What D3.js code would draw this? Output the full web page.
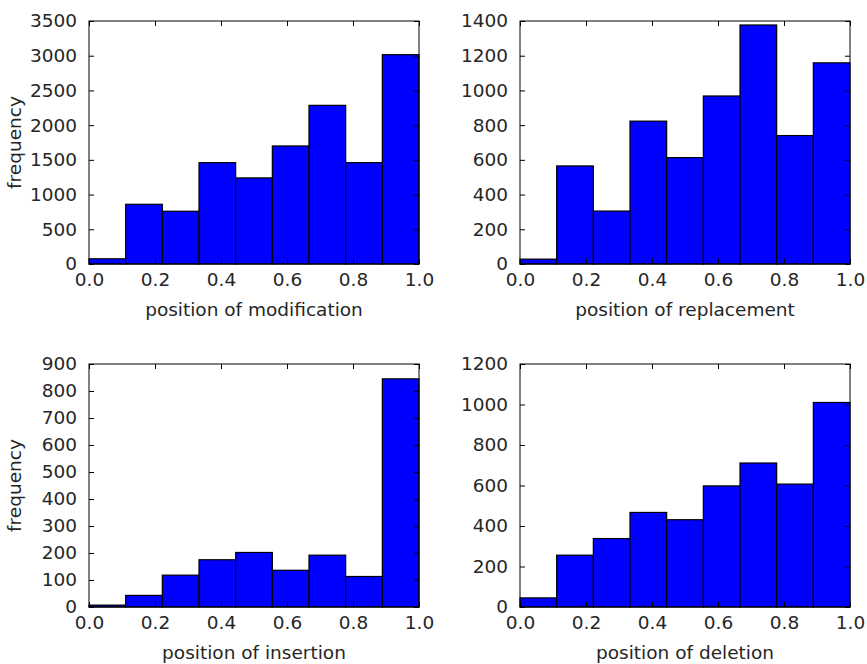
<!DOCTYPE html>
<html>
<head>
<meta charset="utf-8">
<script src="https://cdn.jsdelivr.net/npm/d3@7"></script>
<style>
  body { margin: 0; background: #fff; }
  text { font-family: "DejaVu Sans", sans-serif; fill: #262626; }
</style>
</head>
<body>
<script>
var width = 867,
    height = 664;

// histogram bins: 9 equal bins on [0, 1]
var binCount = 9;

var modification = [75, 860, 760, 1460, 1240, 1700, 2285, 1460, 3015];
var replacement = [28, 565, 305, 823, 613, 968, 1377, 740, 1159];
var insertion = [7, 43, 118, 175, 202, 136, 192, 113, 845];
var deletion = [45, 256, 338, 467, 431, 598, 711, 607, 1010];

var xTicks = [0, 0.2, 0.4, 0.6, 0.8, 1.0];

var panels = [
  { values: modification, label: 'position of modification', ymax: 3500, ystep: 500, ylabel: true, left: 89, top: 21 },
  { values: replacement, label: 'position of replacement', ymax: 1400, ystep: 200, ylabel: false, left: 520, top: 21 },
  { values: insertion, label: 'position of insertion', ymax: 900, ystep: 100, ylabel: true, left: 89, top: 364 },
  { values: deletion, label: 'position of deletion', ymax: 1200, ystep: 200, ylabel: false, left: 520, top: 364 }
];

var pw = 330, ph = 243, tickLen = 5, fs = 18.5;

var svg = d3.select('body')
  .append('svg')
  .attr('width', width)
  .attr('height', height);

panels.forEach(function(p) {
  var g = svg.append('g')
    .attr('transform', 'translate(' + p.left + ',' + p.top + ')');

  var x = d3.scaleLinear().domain([0, 1]).range([0, pw]);
  var y = d3.scaleLinear().domain([0, p.ymax]).range([ph, 0]);
  var yTicks = d3.range(0, p.ymax + 1, p.ystep);

  var bins = p.values.map(function(v, i) {
    return { x0: i / binCount, x1: (i + 1) / binCount, v: v };
  });

  g.selectAll('rect.bar')
    .data(bins)
    .enter().append('rect')
    .attr('class', 'bar')
    .attr('x', function(d) { return x(d.x0); })
    .attr('y', function(d) { return y(d.v); })
    .attr('width', function(d) { return x(d.x1) - x(d.x0); })
    .attr('height', function(d) { return ph - y(d.v); })
    .attr('fill', '#0000ff')
    .attr('stroke', '#000')
    .attr('stroke-width', 1.2);

  // frame
  g.append('rect')
    .attr('width', pw)
    .attr('height', ph)
    .attr('fill', 'none')
    .attr('stroke', '#000')
    .attr('stroke-width', 1);

  // inward ticks, all four sides (classic style)
  var bottom = d3.axisBottom(x).tickValues(xTicks).tickSizeInner(-tickLen).tickSizeOuter(0)
    .tickPadding(tickLen + 4).tickFormat(d3.format('.1f'));
  var top = d3.axisTop(x).tickValues(xTicks).tickSizeInner(-tickLen).tickSizeOuter(0).tickFormat('');
  var left = d3.axisLeft(y).tickValues(yTicks).tickSizeInner(-tickLen).tickSizeOuter(0)
    .tickPadding(tickLen + 7).tickFormat(d3.format('d'));
  var right = d3.axisRight(y).tickValues(yTicks).tickSizeInner(-tickLen).tickSizeOuter(0).tickFormat('');

  [
    g.append('g').attr('transform', 'translate(0,' + ph + ')').call(bottom),
    g.append('g').call(top),
    g.append('g').call(left),
    g.append('g').attr('transform', 'translate(' + pw + ',0)').call(right)
  ].forEach(function(a) {
    a.select('.domain').remove();
    a.selectAll('line').attr('stroke', '#000');
    a.selectAll('text').style('font-size', fs + 'px').attr('fill', '#262626');
  });

  g.append('text')
    .attr('x', pw / 2)
    .attr('y', ph + 52)
    .attr('text-anchor', 'middle')
    .style('font-size', fs + 'px')
    .text(p.label);

  if (p.ylabel) {
    g.append('text')
      .attr('transform', 'translate(-68,' + (ph / 2) + ') rotate(-90)')
      .attr('text-anchor', 'middle')
      .style('font-size', fs + 'px')
      .text('frequency');
  }
});
</script>
</body>
</html>
